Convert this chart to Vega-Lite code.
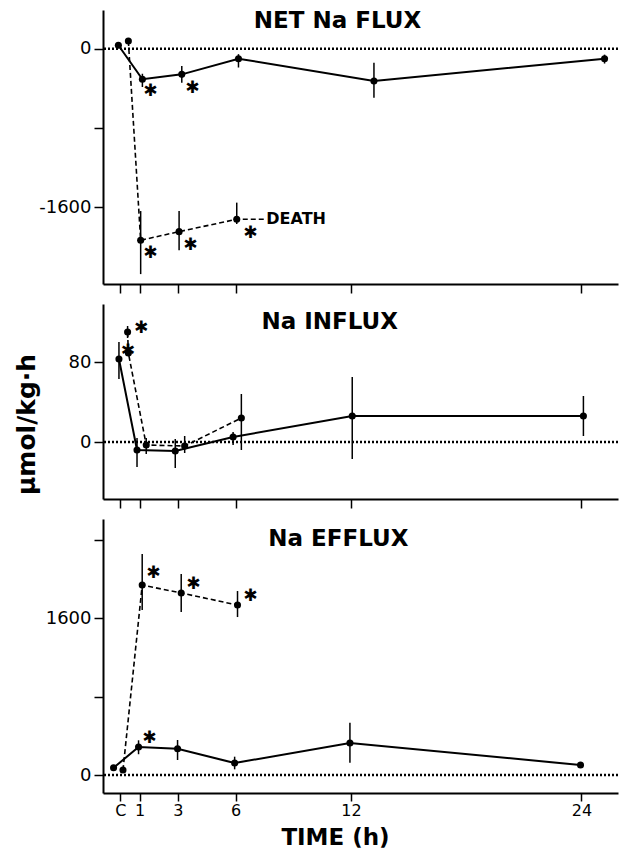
{
  "$schema": "https://vega.github.io/schema/vega-lite/v6.json",
  "background": "white",
  "padding": {"left": 13, "top": 9, "right": 5, "bottom": 2},
  "spacing": 10,
  "config": {
    "view": {"stroke": null},
    "axis": {
      "grid": false,
      "domainColor": "black",
      "domainWidth": 2,
      "tickColor": "black",
      "tickWidth": 1.5,
      "tickSize": 9,
      "labelColor": "black",
      "labelFont": "DejaVu Sans",
      "labelFontSize": 18,
      "labelPadding": 3,
      "labelOverlap": false,
      "labelFlush": false,
      "titleColor": "black",
      "titleFont": "DejaVu Sans",
      "titleFontWeight": "bold"
    }
  },
  "datasets": {
    "pts": [
      {"p": "net", "s": "s", "h": -0.1, "v": 35, "dot": true},
      {"p": "net", "s": "s", "h": 1.15, "v": -309, "lo": -387, "hi": -253, "dot": true},
      {"p": "net", "s": "s", "h": 3.2, "v": -259, "lo": -343, "hi": -175, "dot": true},
      {"p": "net", "s": "s", "h": 6.15, "v": -101, "lo": -190, "hi": -55, "dot": true},
      {"p": "net", "s": "s", "h": 13.2, "v": -326, "lo": -495, "hi": -141, "dot": true},
      {"p": "net", "s": "s", "h": 25.2, "v": -101, "lo": -150, "hi": -60, "dot": true},
      {"p": "net", "s": "d", "h": 0.42, "v": 78, "dot": true},
      {"p": "net", "s": "d", "h": 1.06, "v": -1935, "lo": -2277, "hi": -1640, "dot": true},
      {"p": "net", "s": "d", "h": 3.06, "v": -1848, "lo": -2035, "hi": -1640, "dot": true},
      {"p": "net", "s": "d", "h": 6.06, "v": -1723, "lo": -1771, "hi": -1555, "dot": true},
      {"p": "net", "s": "d", "h": 7.5, "v": -1723, "dot": false},
      {"p": "in", "s": "s", "h": -0.07, "v": 83, "lo": 63, "hi": 100, "dot": true},
      {"p": "in", "s": "s", "h": 0.87, "v": -8, "lo": -25, "hi": 4, "dot": true},
      {"p": "in", "s": "s", "h": 2.86, "v": -9, "lo": -26, "hi": 3, "dot": true},
      {"p": "in", "s": "s", "h": 5.87, "v": 5, "lo": -3, "hi": 10, "dot": true},
      {"p": "in", "s": "s", "h": 12.07, "v": 26, "lo": -17, "hi": 65, "dot": true},
      {"p": "in", "s": "s", "h": 24.1, "v": 26, "lo": 6, "hi": 46, "dot": true},
      {"p": "in", "s": "d", "h": 0.38, "v": 110, "lo": 104, "hi": 116, "dot": true},
      {"p": "in", "s": "d", "h": 0.42, "v": 89, "dot": true},
      {"p": "in", "s": "d", "h": 1.35, "v": -3, "lo": -12, "hi": 4, "dot": true},
      {"p": "in", "s": "d", "h": 3.35, "v": -4, "lo": -11, "hi": 6, "dot": true},
      {"p": "in", "s": "d", "h": 6.3, "v": 24, "lo": -8, "hi": 48, "dot": true},
      {"p": "ef", "s": "s", "h": -0.35, "v": 74, "dot": true},
      {"p": "ef", "s": "s", "h": 0.95, "v": 285, "lo": 212, "hi": 354, "dot": true},
      {"p": "ef", "s": "s", "h": 2.98, "v": 268, "lo": 153, "hi": 357, "dot": true},
      {"p": "ef", "s": "s", "h": 5.95, "v": 122, "lo": 58, "hi": 187, "dot": true},
      {"p": "ef", "s": "s", "h": 11.95, "v": 326, "lo": 125, "hi": 533, "dot": true},
      {"p": "ef", "s": "s", "h": 23.95, "v": 102, "dot": true},
      {"p": "ef", "s": "d", "h": 0.14, "v": 51, "dot": true},
      {"p": "ef", "s": "d", "h": 1.14, "v": 1936, "lo": 1681, "hi": 2252, "dot": true},
      {"p": "ef", "s": "d", "h": 3.17, "v": 1855, "lo": 1661, "hi": 2048, "dot": true},
      {"p": "ef", "s": "d", "h": 6.1, "v": 1732, "lo": 1610, "hi": 1875, "dot": true}
    ],
    "stars": [
      {"p": "net", "h": 1.56, "v": -427},
      {"p": "net", "h": 3.75, "v": -397},
      {"p": "net", "h": 1.56, "v": -2063},
      {"p": "net", "h": 3.65, "v": -1983},
      {"p": "net", "h": 6.77, "v": -1862},
      {"p": "in", "h": 1.09, "v": 114},
      {"p": "in", "h": 0.4, "v": 91},
      {"p": "ef", "h": 1.72, "v": 2062},
      {"p": "ef", "h": 3.8, "v": 1946},
      {"p": "ef", "h": 6.77, "v": 1824},
      {"p": "ef", "h": 1.51, "v": 380}
    ],
    "titles": [
      {"p": "net", "h": 11.3, "v": 280, "t": "NET Na FLUX"},
      {"p": "in", "h": 10.9, "v": 120, "t": "Na INFLUX"},
      {"p": "ef", "h": 11.35, "v": 2405, "t": "Na EFFLUX"}
    ],
    "notes": [
      {"p": "net", "h": 7.6, "v": -1723, "t": "DEATH"}
    ]
  },
  "vconcat": [
    {
      "width": 515,
      "height": 274,
      "layer": [
        {
          "data": {"values": [{"v": 0}]},
          "mark": {"type": "rule", "color": "black", "strokeWidth": 2.5, "strokeDash": [2, 2]},
          "encoding": {
            "y": {"field": "v", "type": "quantitative", "scale": {"domain": [-2377, 391], "nice": false, "zero": false},
              "axis": {"values": [-1600, -800, 0], "labelExpr": "datum.value == -800 ? '' : (datum.value == 0 ? '0' : '-1600')", "title": null}}
          }
        },
        {
          "data": {"name": "pts"},
          "transform": [{"filter": "datum.p == 'net' && isValid(datum.lo)"}],
          "mark": {"type": "rule", "color": "black", "strokeWidth": 1.5},
          "encoding": {
            "x": {"field": "h", "type": "quantitative", "scale": {"domain": [-0.9, 25.9], "nice": false, "zero": false},
              "axis": {"values": [0, 1, 3, 6, 12, 24], "labels": false, "title": null}},
            "y": {"field": "lo", "type": "quantitative"},
            "y2": {"field": "hi"}
          }
        },
        {
          "data": {"name": "pts"},
          "transform": [{"filter": "datum.p == 'net' && datum.s == 's'"}],
          "mark": {"type": "line", "color": "black", "strokeWidth": 2},
          "encoding": {"x": {"field": "h", "type": "quantitative"}, "y": {"field": "v", "type": "quantitative"}}
        },
        {
          "data": {"name": "pts"},
          "transform": [{"filter": "datum.p == 'net' && datum.s == 'd'"}],
          "mark": {"type": "line", "color": "black", "strokeWidth": 1.6, "strokeDash": [5, 3]},
          "encoding": {"x": {"field": "h", "type": "quantitative"}, "y": {"field": "v", "type": "quantitative"}}
        },
        {
          "data": {"name": "pts"},
          "transform": [{"filter": "datum.p == 'net' && datum.dot"}],
          "mark": {"type": "circle", "color": "black", "opacity": 1, "size": 50},
          "encoding": {"x": {"field": "h", "type": "quantitative"}, "y": {"field": "v", "type": "quantitative"}}
        },
        {
          "data": {"name": "stars"},
          "transform": [{"filter": "datum.p == 'net'"}],
          "mark": {"type": "text", "text": "✱", "font": "DejaVu Sans", "fontSize": 17, "align": "center", "baseline": "middle", "color": "black"},
          "encoding": {"x": {"field": "h", "type": "quantitative"}, "y": {"field": "v", "type": "quantitative"}}
        },
        {
          "data": {"name": "titles"},
          "transform": [{"filter": "datum.p == 'net'"}],
          "mark": {"type": "text", "font": "DejaVu Sans", "fontWeight": "bold", "fontSize": 23, "align": "center", "baseline": "middle", "color": "black"},
          "encoding": {"x": {"field": "h", "type": "quantitative"}, "y": {"field": "v", "type": "quantitative"}, "text": {"field": "t"}}
        },
        {
          "data": {"name": "notes"},
          "transform": [{"filter": "datum.p == 'net'"}],
          "mark": {"type": "text", "font": "DejaVu Sans", "fontWeight": "bold", "fontSize": 16, "align": "left", "baseline": "middle", "color": "black"},
          "encoding": {"x": {"field": "h", "type": "quantitative"}, "y": {"field": "v", "type": "quantitative"}, "text": {"field": "t"}}
        }
      ]
    },
    {
      "width": 515,
      "height": 195,
      "layer": [
        {
          "data": {"values": [{"v": 0}]},
          "mark": {"type": "rule", "color": "black", "strokeWidth": 2.5, "strokeDash": [2, 2]},
          "encoding": {
            "y": {"field": "v", "type": "quantitative", "scale": {"domain": [-57, 138], "nice": false, "zero": false},
              "axis": {"values": [0, 80], "title": "µmol/kg·h", "titleFontSize": 25, "titleX": -64, "titleY": 120}}
          }
        },
        {
          "data": {"name": "pts"},
          "transform": [{"filter": "datum.p == 'in' && isValid(datum.lo)"}],
          "mark": {"type": "rule", "color": "black", "strokeWidth": 1.5},
          "encoding": {
            "x": {"field": "h", "type": "quantitative", "scale": {"domain": [-0.9, 25.9], "nice": false, "zero": false},
              "axis": {"values": [0, 1, 3, 6, 12, 24], "labels": false, "title": null}},
            "y": {"field": "lo", "type": "quantitative"},
            "y2": {"field": "hi"}
          }
        },
        {
          "data": {"name": "pts"},
          "transform": [{"filter": "datum.p == 'in' && datum.s == 's'"}],
          "mark": {"type": "line", "color": "black", "strokeWidth": 2},
          "encoding": {"x": {"field": "h", "type": "quantitative"}, "y": {"field": "v", "type": "quantitative"}}
        },
        {
          "data": {"name": "pts"},
          "transform": [{"filter": "datum.p == 'in' && datum.s == 'd'"}],
          "mark": {"type": "line", "color": "black", "strokeWidth": 1.6, "strokeDash": [5, 3]},
          "encoding": {"x": {"field": "h", "type": "quantitative"}, "y": {"field": "v", "type": "quantitative"}}
        },
        {
          "data": {"name": "pts"},
          "transform": [{"filter": "datum.p == 'in' && datum.dot"}],
          "mark": {"type": "circle", "color": "black", "opacity": 1, "size": 50},
          "encoding": {"x": {"field": "h", "type": "quantitative"}, "y": {"field": "v", "type": "quantitative"}}
        },
        {
          "data": {"name": "stars"},
          "transform": [{"filter": "datum.p == 'in'"}],
          "mark": {"type": "text", "text": "✱", "font": "DejaVu Sans", "fontSize": 17, "align": "center", "baseline": "middle", "color": "black"},
          "encoding": {"x": {"field": "h", "type": "quantitative"}, "y": {"field": "v", "type": "quantitative"}}
        },
        {
          "data": {"name": "titles"},
          "transform": [{"filter": "datum.p == 'in'"}],
          "mark": {"type": "text", "font": "DejaVu Sans", "fontWeight": "bold", "fontSize": 23, "align": "center", "baseline": "middle", "color": "black"},
          "encoding": {"x": {"field": "h", "type": "quantitative"}, "y": {"field": "v", "type": "quantitative"}, "text": {"field": "t"}}
        }
      ]
    },
    {
      "width": 515,
      "height": 274,
      "layer": [
        {
          "data": {"values": [{"v": 0}]},
          "mark": {"type": "rule", "color": "black", "strokeWidth": 2.5, "strokeDash": [2, 2]},
          "encoding": {
            "y": {"field": "v", "type": "quantitative", "scale": {"domain": [-183, 2609], "nice": false, "zero": false},
              "axis": {"values": [0, 800, 1600, 2400], "labelExpr": "datum.value == 800 || datum.value == 2400 ? '' : format(datum.value, 'd')", "title": null}}
          }
        },
        {
          "data": {"name": "pts"},
          "transform": [{"filter": "datum.p == 'ef' && isValid(datum.lo)"}],
          "mark": {"type": "rule", "color": "black", "strokeWidth": 1.5},
          "encoding": {
            "x": {"field": "h", "type": "quantitative", "scale": {"domain": [-0.9, 25.9], "nice": false, "zero": false},
              "axis": {"values": [0, 1, 3, 6, 12, 24], "labelExpr": "datum.value == 0 ? 'C' : datum.label", "labelFontSize": 16, "labelPadding": 1, "tickSize": 8,
                "title": "TIME (h)", "titleFontSize": 23, "titleX": 232, "titleY": 51, "titleBaseline": "alphabetic"}},
            "y": {"field": "lo", "type": "quantitative"},
            "y2": {"field": "hi"}
          }
        },
        {
          "data": {"name": "pts"},
          "transform": [{"filter": "datum.p == 'ef' && datum.s == 's'"}],
          "mark": {"type": "line", "color": "black", "strokeWidth": 2},
          "encoding": {"x": {"field": "h", "type": "quantitative"}, "y": {"field": "v", "type": "quantitative"}}
        },
        {
          "data": {"name": "pts"},
          "transform": [{"filter": "datum.p == 'ef' && datum.s == 'd'"}],
          "mark": {"type": "line", "color": "black", "strokeWidth": 1.6, "strokeDash": [5, 3]},
          "encoding": {"x": {"field": "h", "type": "quantitative"}, "y": {"field": "v", "type": "quantitative"}}
        },
        {
          "data": {"name": "pts"},
          "transform": [{"filter": "datum.p == 'ef' && datum.dot"}],
          "mark": {"type": "circle", "color": "black", "opacity": 1, "size": 50},
          "encoding": {"x": {"field": "h", "type": "quantitative"}, "y": {"field": "v", "type": "quantitative"}}
        },
        {
          "data": {"name": "stars"},
          "transform": [{"filter": "datum.p == 'ef'"}],
          "mark": {"type": "text", "text": "✱", "font": "DejaVu Sans", "fontSize": 17, "align": "center", "baseline": "middle", "color": "black"},
          "encoding": {"x": {"field": "h", "type": "quantitative"}, "y": {"field": "v", "type": "quantitative"}}
        },
        {
          "data": {"name": "titles"},
          "transform": [{"filter": "datum.p == 'ef'"}],
          "mark": {"type": "text", "font": "DejaVu Sans", "fontWeight": "bold", "fontSize": 23, "align": "center", "baseline": "middle", "color": "black"},
          "encoding": {"x": {"field": "h", "type": "quantitative"}, "y": {"field": "v", "type": "quantitative"}, "text": {"field": "t"}}
        }
      ]
    }
  ]
}
